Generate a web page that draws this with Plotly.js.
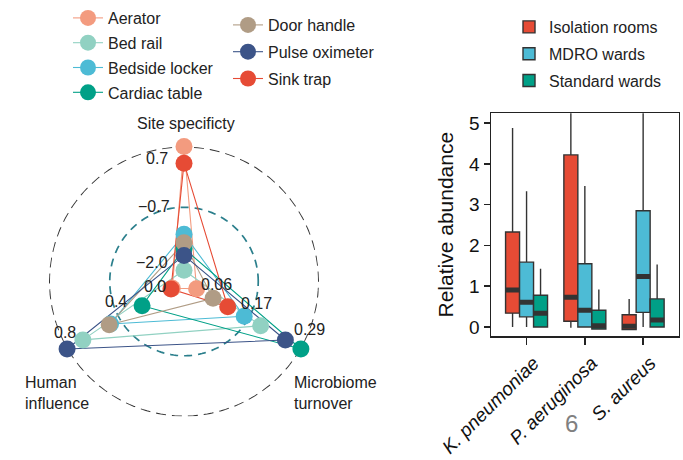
<!DOCTYPE html>
<html><head><meta charset="utf-8">
<script src="https://cdn.plot.ly/plotly-3.0.1.min.js"></script>
<style>html,body{margin:0;padding:0;background:#fff}#chart{width:683px;height:460px}</style>
</head><body><div id="chart"></div>
<script>
// ---------- Radar data ----------
const sites = ['Aerator','Bed rail','Bedside locker','Cardiac table','Door handle','Pulse oximeter','Sink trap'];
const siteColors = ['#F39B7F','#91D1C2','#4DBBD5','#00A087','#B09C85','#3C5488','#E64B35'];
const siteSpecificity   = [0.70, -2.05, -1.25, -1.57, -1.44, -1.72, 0.33];
const humanInfluence    = [0.00, 0.68, 0.47, 0.23, 0.48, 0.80, 0.01];
const microbiomeTurnover= [0.062, 0.202, 0.166, 0.290, 0.098, 0.256, 0.130];
const siteSpecTicks  = [-2.0, -0.7, 0.7];
const humanTicks     = [0.0, 0.4, 0.8];
const turnoverTicks  = [0.06, 0.17, 0.29];
const siteSpecLabels = ['\u22122.0','\u22120.7','0.7'];
const humanLabels    = ['0.0','0.4','0.8'];
const turnoverLabels = ['0.06','0.17','0.29'];
const axisTitles = ['Site specificty','Human<br>influence','Microbiome<br>turnover'];

// ---------- Box data ----------
const categories = ['K. pneumoniae','P. aeruginosa','S. aureus'];
const wards = ['Isolation rooms','MDRO wards','Standard wards'];
const wardColors = ['#E64B35','#4DBBD5','#00A087'];
const isoLower  = [0.00, -0.02, -0.06];
const isoQ1     = [0.34, 0.14, -0.06];
const isoMedian = [0.91, 0.73, 0.02];
const isoQ3     = [2.33, 4.22, 0.30];
const isoUpper  = [4.88, 5.60, 0.69];
const mdroLower  = [0.00, 0.00, 0.00];
const mdroQ1     = [0.25, 0.00, 0.36];
const mdroMedian = [0.61, 0.41, 1.24];
const mdroQ3     = [1.59, 1.55, 2.85];
const mdroUpper  = [3.33, 3.46, 5.60];
const stdLower  = [0.00, -0.05, 0.00];
const stdQ1     = [0.00, -0.05, 0.00];
const stdMedian = [0.34, 0.03, 0.17];
const stdQ3     = [0.78, 0.41, 0.69];
const stdUpper  = [1.43, 0.92, 1.53];

const W = 683, H = 460;
const FONT = '"Liberation Sans", Arial, Helvetica, sans-serif';
const TXT = '#222';
function norm(v, t) { return (v - t[0]) / (t[2] - t[0]); }
function px(x, y) { return {x: x / W, y: 1 - y / H}; }

const traces = [];
// grid rings (max and mid)
const ringTheta = []; for (let a = 0; a <= 360; a += 2) ringTheta.push(a);
traces.push({type:'scatterpolar', r: ringTheta.map(() => 1), theta: ringTheta, mode:'lines',
  line:{color:'#333', width:2, dash:'10px,6px'}, hoverinfo:'skip', showlegend:false, cliponaxis:false});
traces.push({type:'scatterpolar', r: ringTheta.map(() => 0.5), theta: ringTheta, mode:'lines',
  line:{color:'#2b7f8c', width:1.7, dash:'8px,6px'}, hoverinfo:'skip', showlegend:false, cliponaxis:false});

const radii = sites.map((s, i) => [
  norm(siteSpecificity[i], siteSpecTicks),
  norm(humanInfluence[i], humanTicks),
  norm(microbiomeTurnover[i], turnoverTicks)
]);
sites.forEach((s, i) => {
  const rr = radii[i];
  traces.push({type:'scatterpolar', r:[rr[0], rr[1], rr[2], rr[0]], theta:[90, 210, 330, 90],
    mode:'lines', line:{color:siteColors[i], width:1.1}, showlegend:false, hoverinfo:'skip', cliponaxis:false});
});
sites.forEach((s, i) => {
  const rr = radii[i];
  traces.push({type:'scatterpolar', name:s, r:[rr[0], null, rr[1], null, rr[2]], theta:[90, 90, 210, 210, 330],
    mode:'lines+markers', connectgaps:false, line:{color:siteColors[i], width:1.1},
    marker:{color:siteColors[i], size:17}, cliponaxis:false,
    legend: i < 4 ? 'legend' : 'legend2', legendgroup:s});
});

// boxes
const stats = [
  [isoLower, isoQ1, isoMedian, isoQ3, isoUpper],
  [mdroLower, mdroQ1, mdroMedian, mdroQ3, mdroUpper],
  [stdLower, stdQ1, stdMedian, stdQ3, stdUpper]
];
wards.forEach((w, k) => {
  const s = stats[k];
  traces.push({type:'box', name:w, x:categories, lowerfence:s[0], q1:s[1], median:s[2], q3:s[3], upperfence:s[4],
    fillcolor:wardColors[k], line:{color:'#333', width:1.4}, whiskerwidth:0, boxpoints:false,
    offsetgroup:'g'+k, legend:'legend3', legendgroup:w, xaxis:'x', yaxis:'y', hoverinfo:'skip'});
});
wards.forEach((w, k) => {
  const s = stats[k];
  traces.push({type:'box', name:w+' median', x:categories, lowerfence:s[2], q1:s[2], median:s[2], q3:s[2], upperfence:s[2],
    fillcolor:'#333', line:{color:'#333', width:5}, whiskerwidth:0, boxpoints:false,
    offsetgroup:'g'+k, showlegend:false, xaxis:'x', yaxis:'y', hoverinfo:'skip'});
});

// annotations
const ann = [];
function addText(text, x, y, size, xanchor, align, color) {
  const p = px(x, y);
  ann.push({text:text, x:p.x, y:p.y, xref:'paper', yref:'paper', showarrow:false,
    xanchor:xanchor || 'center', yanchor:'middle', align:align || 'center',
    font:{family:FONT, size:size, color:color || TXT}});
}
addText(axisTitles[0], 186, 123, 16);
addText(axisTitles[1], 23, 392.5, 16, 'left', 'left');
addText(axisTitles[2], 292, 392.5, 16, 'left', 'left');
// ring value labels
const specPos = [[152,262],[154,207],[157,158]];
const humPos  = [[155,286],[116,301],[65,332]];
const turnPos = [[216,284],[256,303],[309,329]];
for (let j = 0; j < 3; j++) {
  addText(siteSpecLabels[j], specPos[j][0], specPos[j][1], 16);
  addText(humanLabels[j], humPos[j][0], humPos[j][1], 16);
  addText(turnoverLabels[j], turnPos[j][0], turnPos[j][1], 16);
}
addText('6', 571, 423, 24, 'center', 'center', '#808080');

const legendBase = {bgcolor:'rgba(0,0,0,0)', font:{family:FONT, size:16, color:TXT}, xanchor:'left', yanchor:'top',
  orientation:'v'};

const layout = {
  width:W, height:H, margin:{l:0, r:0, t:0, b:0},
  paper_bgcolor:'#fff', plot_bgcolor:'rgba(0,0,0,0)',
  font:{family:FONT, color:TXT},
  polar:{
    domain:{x:[49/W, 319/W], y:[(H-281.5-135)/H, (H-281.5+135)/H]},
    bgcolor:'rgba(0,0,0,0)',
    radialaxis:{visible:false, range:[-1/9, 1]},
    angularaxis:{visible:false}
  },
  xaxis:{domain:[491/W, 678.7/W], type:'category', categoryorder:'array', categoryarray:categories,
    range:[-0.61, 2.61], showline:true, mirror:true, linecolor:'#222', linewidth:1.5,
    ticks:'outside', ticklen:7, tickwidth:1.5, tickcolor:'#222', tickangle:-45, ticklabelshift:7,
    tickfont:{family:FONT, size:19, style:'italic', color:'#111'}, showgrid:false, zeroline:false},
  yaxis:{domain:[(H-336)/H, (H-113.3)/H], range:[-0.22, 5.24], tickvals:[0,1,2,3,4,5],
    showline:true, mirror:true, linecolor:'#222', linewidth:1.5,
    ticks:'outside', ticklen:6, tickwidth:1.5, tickcolor:'#222',
    tickfont:{family:FONT, size:19, color:'#111'}, showgrid:false, zeroline:false,
    title:{text:'Relative abundance', font:{family:FONT, size:21, color:'#111'}, standoff:10}},
  boxmode:'group', boxgap:0.28, boxgroupgap:0,
  showlegend:true,
  legend:Object.assign({}, legendBase, {x:68/W, y:1-1/H, tracegroupgap:1}),
  legend2:Object.assign({}, legendBase, {x:228/W, y:1-8/H, tracegroupgap:3}),
  legend3:Object.assign({}, legendBase, {x:509/W, y:1-10/H, tracegroupgap:3}),
  annotations:ann
};

Plotly.newPlot('chart', traces, layout, {displayModeBar:false, staticPlot:true});
</script></body></html>
